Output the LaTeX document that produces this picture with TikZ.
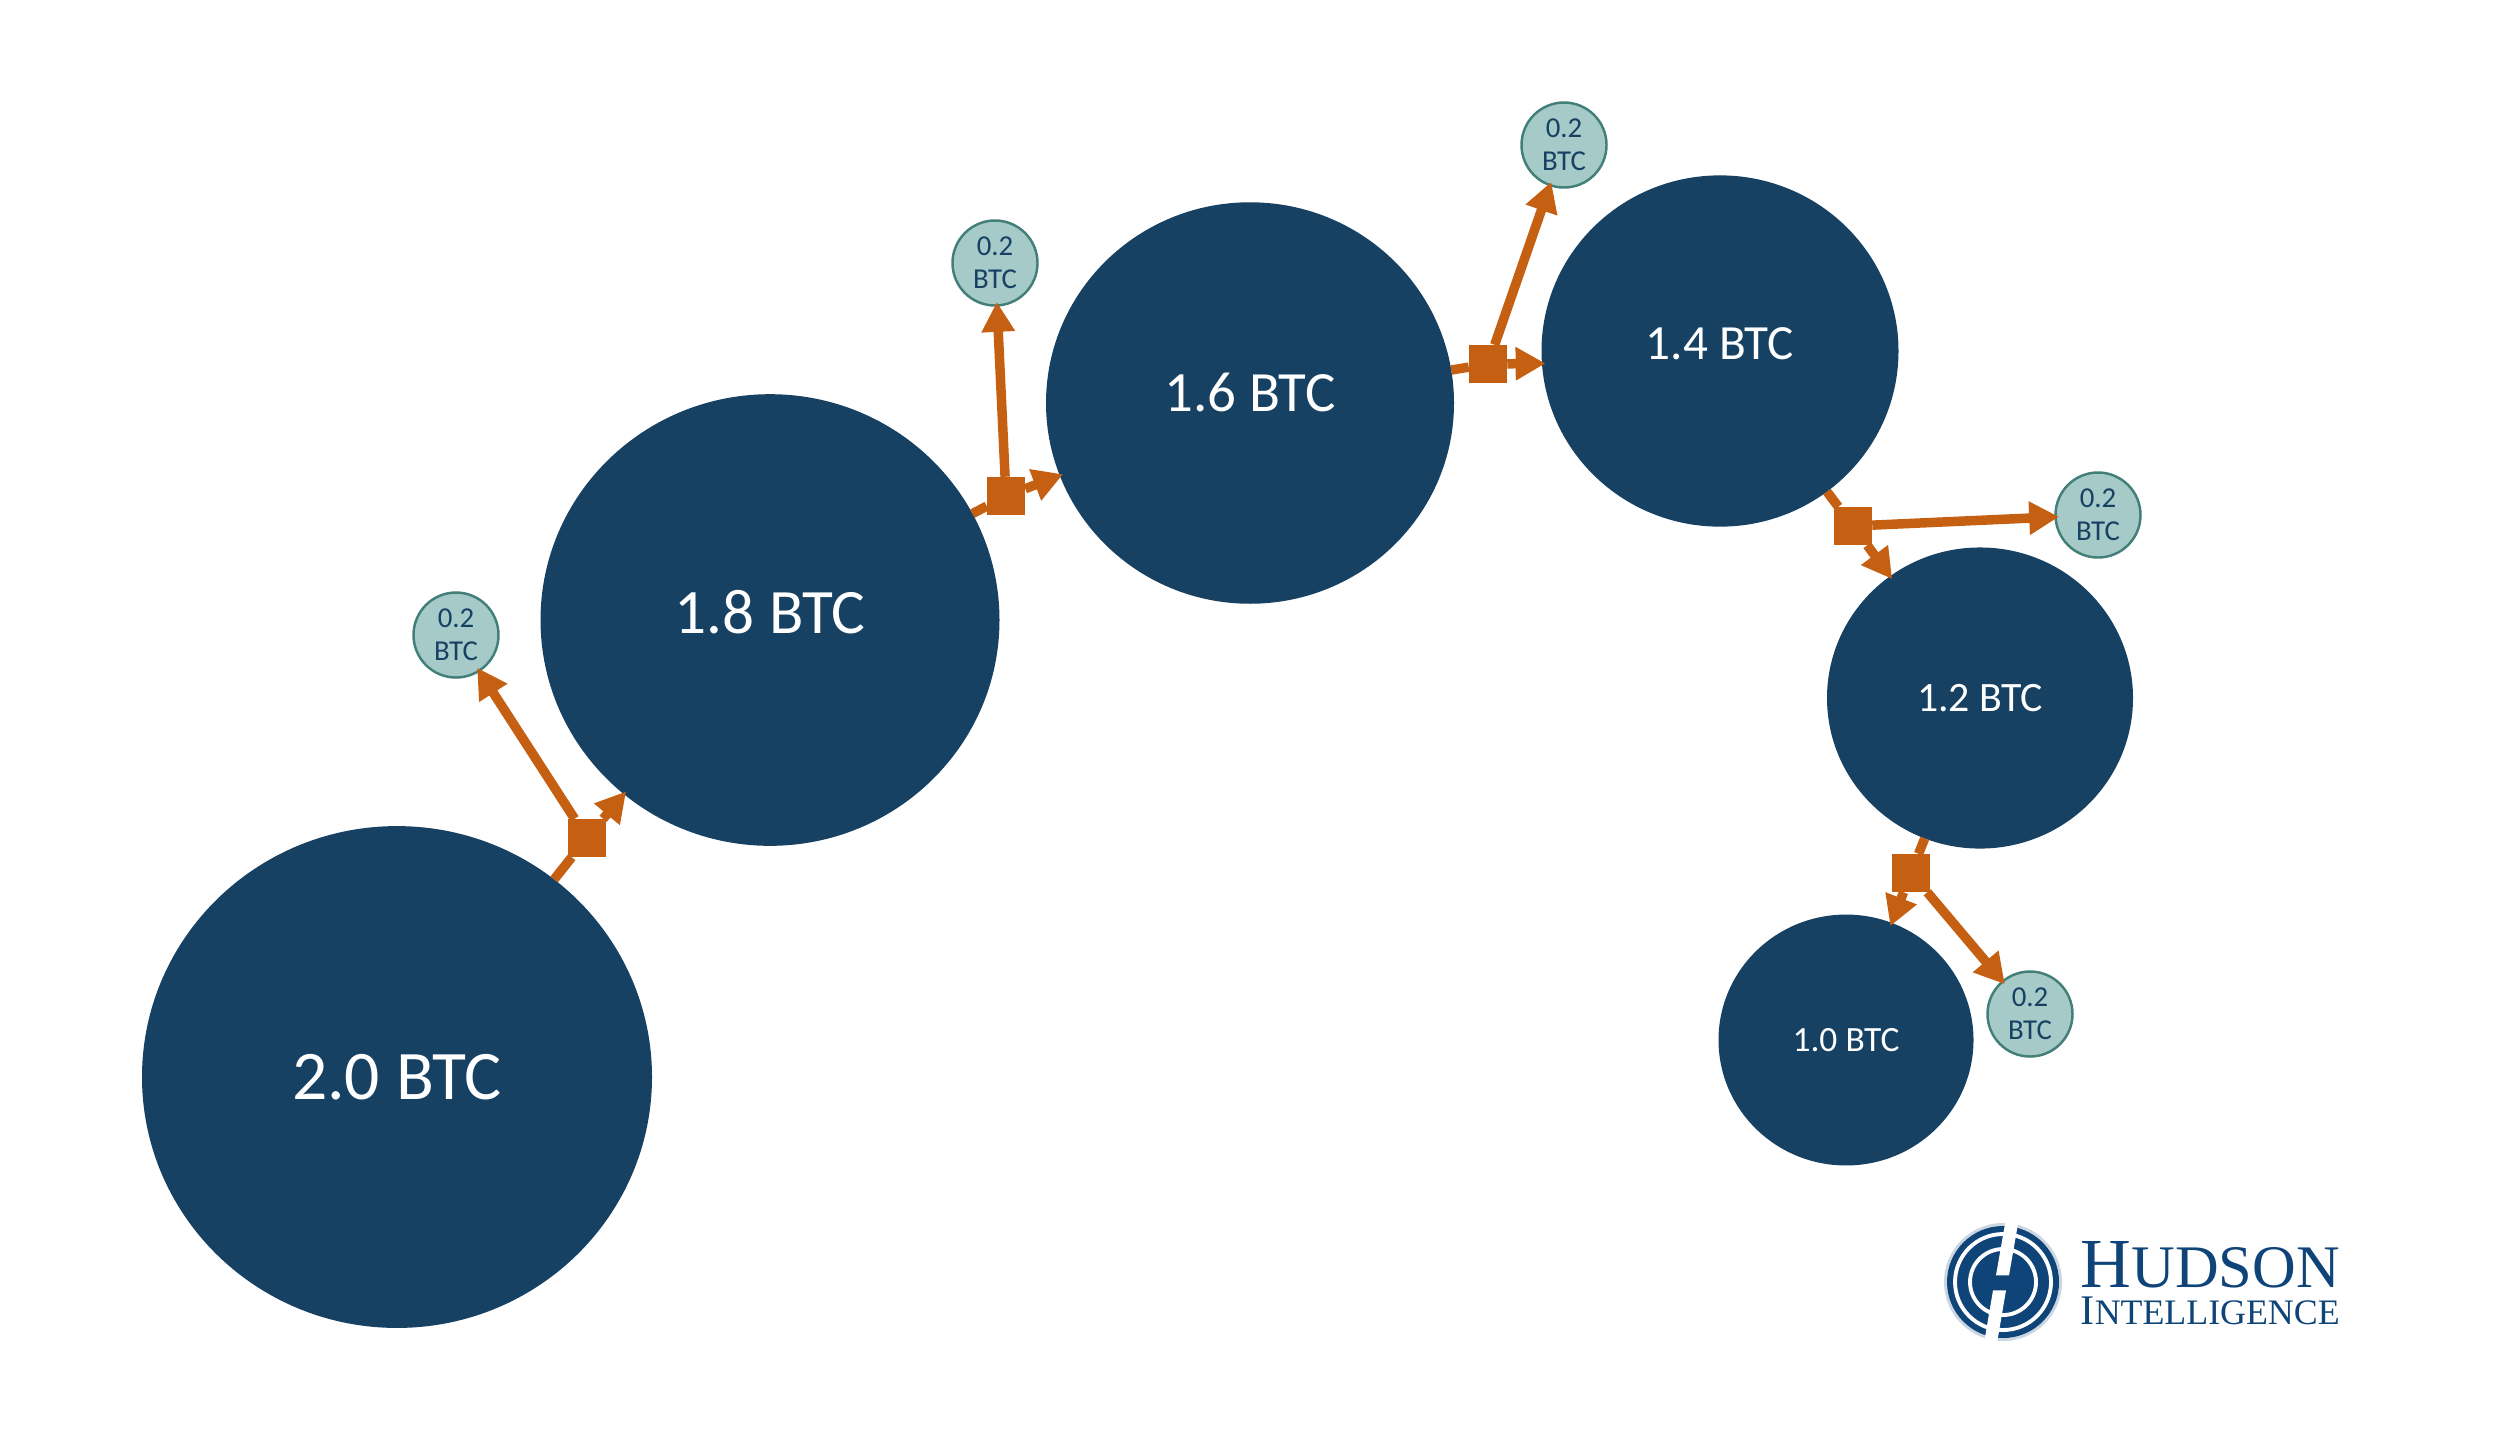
\documentclass[tikz,border=0pt]{standalone}
\usepackage{fontspec}
\setmainfont{Carlito}
\newfontfamily\logofont{Liberation Serif}
\usepackage{tikz}
\usetikzlibrary{arrows.meta,shapes.geometric}
\definecolor{coinblue}{HTML}{174163}
\definecolor{feedorange}{HTML}{C55F12}
\definecolor{feeteal}{HTML}{A6CAC8}
\definecolor{feeedge}{HTML}{437F79}
\definecolor{logoblue}{HTML}{0F4478}
\tikzset{
  coin/.style={ellipse, fill=coinblue, text=white, inner sep=0pt, outer sep=0pt, minimum width=#1cm, minimum height=0.984*#1cm},
  fee/.style={circle, draw=feeedge, line width=0.7pt, fill=feeteal, text=coinblue, inner sep=0pt, outer sep=0pt, minimum size=0.85cm,
              align=center, font=\fontsize{8.2}{9.5}\selectfont},
  txbox/.style={rectangle, fill=feedorange, inner sep=0pt, outer sep=0pt, minimum size=3.85mm},
  feed/.style={draw=feedorange, line width=2.7pt},
  pay/.style={feed, -{Triangle[length=8.5pt, width=9pt]}, shorten >=-1pt},
  logotext/.style={inner sep=0pt, anchor=south west, align=left, text=logoblue, font=\logofont}
}
\newcommand{\sz}[1]{\fontsize{#1}{#1}\selectfont}

\begin{document}
\begin{tikzpicture}[x=1cm, y=-1cm]
\useasboundingbox (0,0) rectangle (25,14.51);
% coins
\node[coin=5.10, font=\sz{19.8}] (c20) at (3.97,10.77) {\raisebox{-0.08cm}{2.0 BTC}};
\node[coin=4.59, font=\sz{18}]   (c18) at (7.70,6.20) {\raisebox{0.16cm}{1.8 BTC}};
\node[coin=4.08, font=\sz{16.2}] (c16) at (12.50,4.03) {\raisebox{0.22cm}{1.6 BTC}};
\node[coin=3.57, font=\sz{14}]   (c14) at (17.20,3.51) {\raisebox{0.14cm}{1.4 BTC}};
\node[coin=3.06, font=\sz{11.9}] (c12) at (19.80,6.98) {1.2 BTC};
\node[coin=2.55, font=\sz{10.1}] (c10) at (18.46,10.40) {\raisebox{-0.04cm}{1.0 BTC}};
% fees
\node[fee] (f1) at (4.56,6.35) {0.2\\BTC};
\node[fee] (f2) at (9.95,2.63) {0.2\\BTC};
\node[fee] (f3) at (15.64,1.45) {0.2\\BTC};
\node[fee] (f4) at (20.98,5.15) {0.2\\BTC};
\node[fee] (f5) at (20.30,10.14) {0.2\\BTC};
% transactions
\node[txbox] (t1) at (5.87,8.38) {};
\node[txbox] (t2) at (10.06,4.96) {};
\node[txbox] (t3) at (14.88,3.64) {};
\node[txbox] (t4) at (18.53,5.26) {};
\node[txbox] (t5) at (19.11,8.73) {};
\foreach \src/\tx/\dst/\out in {c20/t1/c18/f1, c18/t2/c16/f2, c16/t3/c14.184/f3, c14/t4/c12/f4, c12/t5/c10/f5} {
  \draw[feed] (\src) -- (\tx);
  \draw[pay] (\tx) -- (\dst);
  \draw[pay] (\tx) -- (\out);
}
% logo
\begin{scope}[shift={(20.03,12.82)}]
  \fill[logoblue!22] (0,0) circle (0.59);
  \fill[logoblue] (0,0) circle (0.56);
  \draw[white, line width=1.1pt] (0,0) circle (0.48);
  \draw[white, line width=1.1pt] (0,0) circle (0.33);
  \fill[white] (0.03,-0.64) -- (0.16,-0.64) -- (0.06,-0.067) -- (-0.07,-0.067) -- cycle;
  \fill[white] (-0.10,0.083) -- (0.03,0.083) -- (-0.065,0.64) -- (-0.195,0.64) -- cycle;
\end{scope}
\node[logotext] (hud) at (20.80,13.26) {\sz{20}H\sz{17.2}UDSON\\[-1.4pt]\sz{12}I\sz{10.2}NTELLIGENCE};
\end{tikzpicture}
\end{document}
